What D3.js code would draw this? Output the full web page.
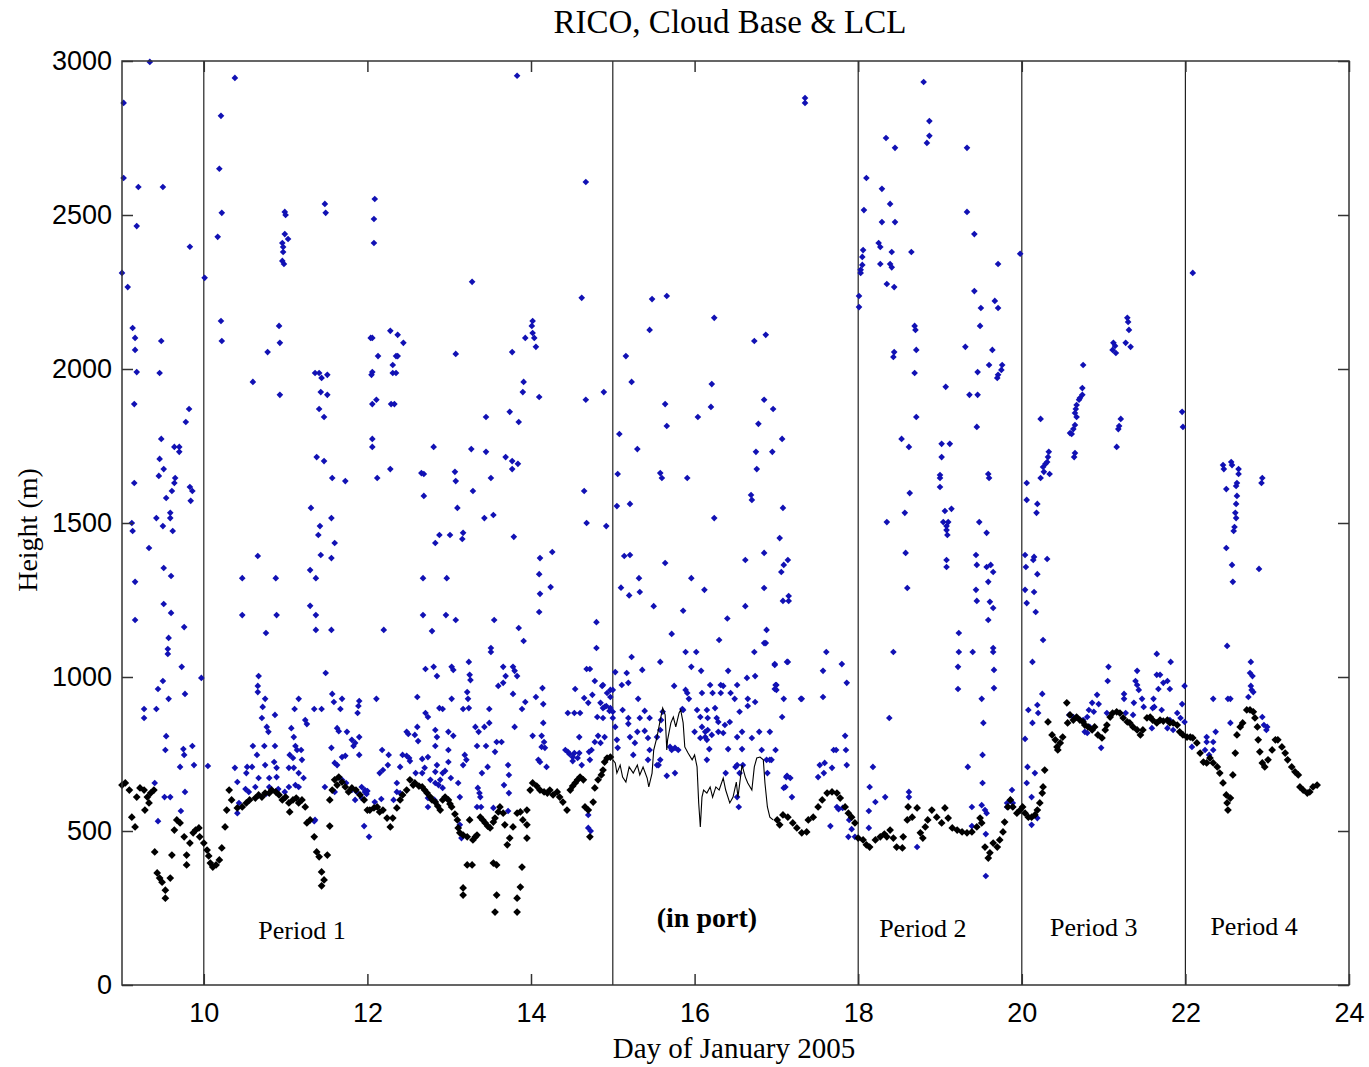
<!DOCTYPE html>
<html><head><meta charset="utf-8">
<script src="https://cdn.jsdelivr.net/npm/d3@7"></script>
<style>
html,body{margin:0;padding:0;background:#fff;}
svg{display:block;}
</style></head>
<body>
<svg id="chart" width="1369" height="1067"></svg>
<script>
// ---------- DATA ----------
const chartTitle = "RICO, Cloud Base & LCL";
const xLabel = "Day of January 2005";
const yLabel = "Height (m)";
const xTicks = [10,12,14,16,18,20,22,24];
const yTicks = [0,500,1000,1500,2000,2500,3000];
const periodLines = [10,15,18,20,22];
const periodNames = ["Period 1","(in port)","Period 2","Period 3","Period 4"];
const periodDays = [11.2,16.15,18.79,20.88,22.84];
const periodHeights = [150,188,156,159,162];

// Cloud base (blue points): [day, height m]
const cloudBase = [
[9.34,2997],[9.02,2864],[9.02,2620],[9.20,2591],[9.50,2591],[9.18,2464],[9.83,2397],[9.00,2312],[9.07,2266],[10.01,2296],[9.13,2133],[9.16,2101],[9.16,2062],[9.48,2091],[9.18,1990],[9.46,1987],[9.15,1886],[9.82,1870],[9.78,1828],[9.48,1773],[9.64,1747],[9.70,1747],[9.70,1731],[9.46,1708],[9.51,1675],[9.45,1653],[9.65,1646],[9.64,1630],[9.15,1630],[9.61,1604],[9.83,1617],[9.86,1604],[9.54,1581],[9.84,1572],[9.59,1533],[9.59,1516],[9.42,1516],[9.12,1500],[9.50,1490],[9.13,1474],[9.62,1474],[9.33,1419],[9.51,1354],[9.60,1328],[9.16,1309],
[10.38,2945],[10.21,2822],[10.19,2650],[10.22,2507],[10.17,2429],[10.99,2510],[11.00,2500],[10.99,2438],[11.03,2422],[10.96,2409],[10.97,2396],[10.97,2380],[10.96,2351],[10.98,2341],[11.48,2536],[11.49,2507],[12.09,2552],[12.08,2487],[12.08,2409],[10.21,2156],[10.22,2091],[10.92,2140],[10.93,2085],[10.78,2055],[10.60,1958],[10.93,1916],[11.36,1987],[11.41,1987],[11.44,1971],[11.51,1981],[11.43,1925],[11.51,1916],[11.41,1870],[11.47,1844],[11.38,1714],[11.47,1701],[11.57,1646],[11.73,1636],[11.31,1549],[11.56,1516],[11.42,1490],[11.40,1461],[11.60,1435],[11.43,1396],[11.56,1386],[10.66,1393],[11.30,1347],[11.37,1321],[10.47,1321],[10.88,1321],[12.04,2101],[12.06,2101],[12.28,2124],[12.37,2111],[12.44,2085],[12.13,2042],[12.35,2042],[12.37,2042],[12.31,2013],[12.06,1990],[12.05,1981],[12.31,1987],[12.35,1987],[12.11,1900],[12.06,1886],[12.29,1886],[12.33,1886],[12.06,1773],[12.06,1747],[12.28,1675],[12.12,1646],[12.66,1662],
[13.83,2952],[14.67,2607],[13.28,2283],[14.62,2231],[15.48,2227],[15.66,2237],[16.24,2166],[15.45,2127],[14.02,2156],[14.01,2140],[14.02,2117],[13.93,2101],[14.04,2101],[14.06,2072],[13.77,2055],[13.08,2049],[15.16,2042],[13.91,1958],[13.90,1925],[14.10,1909],[14.67,1900],[14.89,1925],[15.23,1958],[16.21,1951],[15.64,1886],[16.20,1877],[16.04,1844],[15.66,1815],[13.45,1844],[13.74,1861],[13.85,1828],[15.08,1789],[12.81,1747],[13.27,1740],[13.45,1731],[13.69,1714],[13.77,1701],[13.84,1692],[13.77,1675],[15.30,1740],[12.69,1659],[13.07,1666],[13.08,1636],[13.51,1646],[15.06,1659],[15.58,1662],[15.60,1646],[15.91,1646],[12.69,1588],[13.29,1604],[14.65,1604],[13.10,1549],[15.05,1555],[15.21,1562],[13.43,1516],[13.54,1526],[16.24,1516],[14.68,1500],[14.92,1490],[12.88,1461],[13.01,1461],[13.17,1468],[13.16,1448],[12.83,1435],[13.79,1455],[14.26,1406],[14.11,1386],[15.14,1393],[15.21,1396],[15.64,1370],[14.10,1334],[12.97,1321],[12.68,1321],[15.32,1321],[15.96,1321],
[17.35,2880],[17.35,2864],[18.80,2932],[18.87,2805],[18.87,2757],[18.84,2734],[18.34,2750],[18.45,2718],[19.33,2718],[18.10,2620],[18.29,2585],[18.39,2536],[18.07,2516],[18.29,2477],[18.45,2477],[19.33,2510],[19.42,2438],[18.25,2409],[18.27,2396],[18.41,2380],[18.65,2380],[18.06,2386],[18.05,2364],[19.98,2374],[18.05,2338],[18.03,2322],[18.03,2312],[18.27,2341],[18.39,2341],[18.41,2330],[19.71,2341],[18.01,2237],[18.01,2201],[18.35,2276],[18.44,2266],[19.42,2253],[19.67,2221],[19.50,2198],[19.71,2198],[19.49,2140],[18.69,2140],[18.70,2127],[16.87,2111],[16.73,2091],[18.44,2055],[18.43,2039],[18.71,2062],[19.31,2072],[19.64,2062],[19.60,2013],[19.76,2013],[19.75,1997],[19.71,1981],[19.70,1971],[18.69,1987],[19.46,1990],[19.07,1942],[19.36,1916],[19.46,1916],[16.85,1900],[16.96,1870],[18.71,1844],[16.78,1822],[19.45,1812],[17.07,1773],[18.53,1773],[18.62,1747],[19.02,1757],[19.12,1757],[16.75,1731],[16.95,1731],[16.76,1675],[19.02,1714],[19.00,1656],[19.00,1646],[19.00,1617],[19.59,1659],[19.60,1646],[20.06,1630],[18.63,1597],[16.69,1591],[16.70,1575],[17.08,1549],[20.06,1575],[20.19,1562],[18.57,1533],[20.18,1533],[18.35,1503],[19.06,1539],[19.14,1546],[19.04,1503],[19.10,1503],[19.08,1490],[19.08,1477],[19.09,1461],[19.48,1503],[19.57,1468],[17.04,1451],[16.85,1403],[18.58,1403],[16.62,1380],[17.09,1364],[17.14,1380],[19.44,1396],[19.45,1364],[19.62,1364],[19.65,1341],[19.59,1309],[20.04,1396],[20.15,1390],[20.14,1380],[20.05,1357],[20.19,1334],
[22.09,2312],[21.29,2166],[21.30,2153],[21.31,2127],[21.27,2085],[21.33,2072],[21.12,2085],[21.14,2075],[21.11,2062],[21.15,2052],[20.75,2013],[21.96,1861],[21.97,1812],[20.74,1938],[20.74,1916],[20.71,1906],[20.70,1900],[20.67,1883],[20.66,1870],[20.65,1857],[20.67,1844],[20.65,1818],[20.63,1805],[20.59,1792],[20.61,1789],[20.65,1727],[20.64,1714],[21.21,1838],[21.19,1815],[21.18,1805],[21.16,1747],[20.23,1838],[20.33,1731],[20.32,1714],[20.31,1698],[20.29,1692],[20.34,1659],[20.26,1682],[20.27,1666],[20.23,1646],[20.31,1383],[22.46,1688],[22.47,1675],[22.56,1698],[22.57,1688],[22.65,1675],[22.65,1659],[22.63,1630],[22.62,1620],[22.50,1610],[22.63,1588],[22.62,1562],[22.61,1533],[22.62,1516],[22.60,1487],[22.59,1474],[22.94,1646],[22.93,1630],[22.50,1419],[22.57,1364],[22.90,1351],[22.58,1309],
[9.51,1237],[9.16,1185],[9.60,1208],[9.76,1162],[9.57,1127],[9.56,1091],[9.56,1075],[9.73,1033],[9.97,997],[9.50,987],[9.44,961],[9.57,929],[9.77,945],[9.27,896],[9.27,867],[9.42,896],[9.54,808],[9.53,763],[9.75,766],[9.76,747],[9.86,776],[9.71,708],[9.88,714],[10.05,711],[9.40,656],[9.52,610],[9.59,610],[9.77,627],[9.72,565],[9.44,532],
[10.47,1201],[10.89,1201],[10.76,1143],[11.30,1231],[11.37,1201],[11.37,1153],[11.56,1153],[11.49,1013],[10.67,1003],[10.66,971],[10.66,951],[10.75,929],[10.72,903],[10.71,867],[10.87,877],[11.16,929],[11.11,896],[11.35,896],[11.44,896],[11.57,945],[11.69,929],[11.59,919],[11.67,896],[11.90,922],[11.89,906],[11.88,883],[10.77,838],[10.79,822],[11.07,834],[11.10,805],[11.24,860],[11.26,847],[11.63,834],[11.65,824],[11.75,822],[10.60,776],[10.74,776],[10.87,776],[11.12,776],[11.14,763],[11.19,763],[11.56,770],[10.65,747],[11.05,747],[11.09,737],[11.81,796],[11.83,776],[11.85,786],[11.90,805],[11.69,740],[11.73,744],[11.20,731],[11.60,721],[11.63,714],[11.90,747],[10.38,705],[10.53,708],[10.59,708],[10.75,714],[10.86,724],[10.89,705],[11.04,705],[11.10,705],[11.16,688],[11.22,672],[10.67,672],[10.80,672],[10.89,675],[10.52,688],[10.41,659],[10.51,636],[10.55,627],[10.63,643],[10.80,643],[10.76,620],[10.91,636],[10.99,627],[11.04,643],[11.12,649],[11.16,643],[11.48,643],[11.60,627],[11.69,666],[11.74,656],[11.81,633],[11.87,627],[11.93,643],[11.97,627],[11.85,601],[11.93,607],[12.00,630],[10.41,558],[10.43,591],[11.96,516],[12.02,481],[11.36,536],[11.35,532],
[14.24,1292],[14.11,1270],[14.10,1211],[12.20,1153],[12.68,1201],[12.96,1201],[13.08,1185],[12.79,1149],[13.55,1185],[13.85,1159],[13.91,1117],[14.80,1178],[14.80,1094],[13.51,1094],[13.51,1081],[12.71,1026],[12.81,1033],[12.85,1003],[13.03,1033],[13.05,1023],[13.24,1049],[13.25,1007],[13.26,990],[13.66,1033],[13.69,1003],[13.78,1033],[13.80,1020],[13.83,1003],[13.60,971],[13.66,981],[13.22,951],[12.61,935],[13.03,929],[13.23,929],[12.11,929],[13.78,945],[14.06,935],[14.14,964],[13.93,919],[13.89,896],[14.15,912],[14.68,1026],[14.72,1026],[14.78,987],[14.87,971],[14.54,961],[14.65,932],[14.70,916],[14.75,942],[14.85,916],[14.88,899],[14.92,906],[14.97,958],[14.96,890],[14.81,870],[14.45,883],[14.53,883],[14.60,883],[12.88,899],[12.92,896],[12.74,870],[12.71,883],[13.17,896],[13.24,899],[13.49,896],[13.32,838],[13.36,822],[13.43,838],[13.49,851],[13.80,838],[14.15,851],[14.13,809],[14.16,789],[14.17,770],[12.48,822],[12.50,815],[12.61,838],[12.58,812],[12.83,828],[12.85,805],[12.99,822],[13.05,809],[12.62,792],[12.83,776],[12.99,763],[13.34,776],[13.45,776],[13.58,789],[13.64,789],[13.56,757],[14.02,809],[14.13,773],[14.59,805],[14.82,809],[14.85,786],[14.78,789],[14.74,763],[14.71,757],[14.45,757],[14.47,750],[14.53,753],[14.59,753],[14.57,737],[14.51,727],[14.42,763],[12.18,763],[12.26,747],[12.43,747],[12.48,744],[12.51,737],[12.52,727],[12.40,708],[12.25,714],[12.67,734],[12.74,740],[12.99,724],[12.85,714],[12.70,705],[12.83,692],[12.95,695],[12.92,688],[12.89,666],[12.83,656],[12.77,666],[12.87,649],[12.67,688],[12.59,688],[13.19,747],[13.21,731],[13.17,714],[13.47,708],[13.40,688],[13.72,714],[13.73,682],[14.09,731],[14.11,724],[14.19,708],[14.51,740],[14.62,714],[14.72,731],[13.02,672],[13.11,656],[13.35,640],[13.37,623],[13.38,610],[13.67,649],[13.73,623],[13.72,565],[13.13,610],[12.92,640],[12.74,607],[12.74,578],[12.82,601],[12.36,656],[12.36,627],[12.15,688],[12.19,698],[11.97,633],[11.99,620],[11.96,601],[12.40,623],[12.09,594],[12.17,604],[12.32,601],[13.34,578],[13.39,578],[13.54,575],[13.13,520],[13.15,477],[14.70,552],[14.70,510],[14.73,500],
[15.10,1290],[15.20,1265],[15.33,1276],[15.50,1230],[15.86,1215],[16.12,1283],[16.40,1190],[16.62,1230],[15.72,1140],[16.30,1120],
[15.23,1065],[15.58,1049],[15.89,1081],[16.02,1081],[16.73,1081],[15.03,1016],[15.36,1023],[15.17,1013],[15.96,1033],[16.08,1020],[16.41,1020],[16.64,997],[16.74,1003],[16.98,1039],[17.13,1049],[14.88,974],[15.11,974],[15.19,981],[15.75,971],[15.89,958],[15.91,948],[16.19,974],[16.32,974],[16.35,971],[16.52,974],[17.00,974],[17.00,958],[14.93,948],[14.97,935],[15.00,958],[15.31,929],[15.93,929],[16.09,948],[16.22,948],[16.32,948],[16.44,948],[16.49,929],[16.65,929],[16.74,919],[17.31,929],[14.90,903],[14.97,899],[15.00,887],[15.12,893],[15.39,890],[15.86,893],[16.03,893],[16.15,893],[16.25,899],[16.55,887],[16.65,906],[14.88,867],[15.00,867],[15.03,838],[15.19,867],[15.19,848],[15.33,867],[15.45,867],[15.59,860],[15.61,887],[15.85,896],[16.07,870],[16.16,867],[16.27,867],[16.29,854],[16.37,844],[16.43,854],[17.07,870],[15.30,822],[15.39,825],[15.58,828],[16.09,838],[16.13,822],[16.16,828],[16.00,822],[16.21,812],[16.29,822],[16.35,818],[16.58,822],[16.79,822],[16.92,822],[14.90,805],[15.05,796],[15.21,805],[15.43,802],[15.54,805],[16.07,802],[16.13,805],[16.15,796],[16.52,805],[16.70,802],[15.27,786],[15.45,763],[15.70,773],[15.72,763],[15.76,770],[15.80,763],[16.18,766],[16.41,766],[16.58,766],[16.82,763],[15.06,770],[15.25,747],[15.43,731],[15.58,731],[16.15,731],[16.92,731],[17.13,679],[17.17,672],[17.11,643],[17.19,610],[16.52,714],[16.59,714],[16.50,708],[16.55,688],[16.38,688],[16.52,610],[16.54,578],[15.54,714],[15.56,714],[15.66,679],[15.76,688],[17.53,714],[17.51,675],
[17.06,1341],[16.85,1289],[17.08,1247],[17.15,1263],[17.15,1247],[16.88,1153],[16.85,1110],[16.87,1110],[16.98,1042],[17.14,1049],[16.99,974],[16.98,961],[17.09,929],[17.30,929],[17.57,935],[17.61,1081],[17.57,1020],[17.80,1042],[17.86,981],[16.99,763],[16.88,731],[16.94,731],[16.89,688],[17.12,675],[17.09,640],[17.59,721],[17.58,688],[17.68,705],[17.70,763],[17.73,763],[17.84,809],[17.85,763],[17.86,714],[17.74,578],[17.76,571],[17.81,575],[17.66,516],[17.89,536],[17.88,481],[17.96,481],[17.92,506],[18.13,510],[18.13,565],[18.21,594],[18.14,643],[18.18,708],[18.33,610],[18.43,1081],[18.38,867],[18.60,1289],[18.62,627],[18.62,610],[18.72,448],[19.23,1143],[19.23,1081],[19.22,1033],[19.22,961],[19.40,1081],[19.08,1380],[19.08,1357],[19.44,1283],[19.45,1247],[19.61,1244],[19.65,1224],[19.59,1185],[19.57,1357],[19.65,1094],[19.65,1081],[19.66,1023],[19.66,964],[19.51,929],[19.53,851],[19.52,747],[19.34,708],[19.52,656],[19.39,578],[19.51,584],[19.55,568],[19.57,558],[19.39,516],[19.56,490],[19.56,354],[19.82,578],[19.86,601],[19.89,578],[19.88,633],[20.04,1283],[20.06,1240],[20.15,1276],[20.17,1211],[20.13,1049],[20.08,893],[20.19,909],[20.20,883],[20.13,851],[20.04,799],[20.07,708],[20.16,688],[20.06,656],[20.12,610],[20.12,520],[20.19,542],
[20.26,1120],[20.25,945],[19.82,591],[19.89,591],[21.06,1033],[21.05,987],[20.94,912],[20.92,942],[20.86,916],[20.82,893],[20.88,887],[20.80,870],[20.75,860],[20.83,838],[20.77,822],[20.97,770],[21.04,883],[20.63,870],[20.58,877],[20.80,818],[21.25,945],[21.25,929],[21.41,1020],[21.39,987],[21.41,974],[21.43,958],[21.37,916],[21.47,929],[21.49,903],[21.60,899],[21.65,1075],[21.82,1049],[21.65,1007],[21.69,1007],[21.73,981],[21.78,987],[21.67,961],[21.81,961],[21.61,929],[21.62,903],[21.71,893],[21.59,834],[21.78,834],[21.85,828],[21.81,860],[21.90,883],[21.36,877],[21.27,883],[21.99,971],[21.96,912],[21.94,867],[21.99,854],[22.08,773],[22.26,805],[22.26,789],[22.24,763],[22.34,789],[22.37,822],[22.34,763],[22.29,747],[22.51,1101],[22.34,929],[22.52,929],[22.55,929],[22.55,851],[22.80,1049],[22.79,1013],[22.82,1003],[22.80,971],[22.81,958],[22.83,951],[22.77,935],[22.94,870],[22.96,844],[22.99,828],[23.00,838]
];

// LCL from ship (black points): [day, height m]
const lclShip = [
[9.00,649],[9.04,656],[9.09,633],[9.12,545],[9.16,513],[9.18,610],[9.22,640],[9.27,633],[9.31,610],[9.33,591],[9.28,568],[9.35,623],[9.39,633],[9.40,432],[9.43,364],[9.46,347],[9.49,334],[9.53,308],[9.53,282],[9.59,347],[9.61,422],[9.64,503],[9.67,536],[9.71,526],[9.76,481],[9.79,422],[9.79,390],[9.83,461],[9.87,494],[9.90,503],[9.94,510],[9.95,481],[10.00,461],[10.04,438],[10.06,419],[10.08,396],[10.11,383],[10.15,390],[10.19,406],[10.22,445],[10.26,513],[10.28,568],[10.31,633],[10.34,601],
[10.41,575],[10.47,578],[10.52,591],[10.56,601],[10.63,607],[10.67,617],[10.71,610],[10.75,623],[10.80,623],[10.83,633],[10.88,627],[10.92,617],[10.96,601],[11.00,610],[11.04,591],[11.05,562],[11.09,601],[11.13,607],[11.16,591],[11.20,601],[11.24,578],[11.26,526],[11.30,536],[11.35,481],[11.38,432],[11.41,416],[11.44,367],[11.47,341],[11.44,322],[11.51,422],[11.54,516],[11.54,601],[11.57,633],[11.60,666],[11.63,649],[11.65,675],[11.69,659],[11.73,643],[11.77,627],[11.81,640],[11.86,633],[11.91,617],[11.96,601],
[12.00,568],[12.03,568],[12.08,575],[12.12,578],[12.15,562],[12.19,568],[12.24,542],[12.28,513],[12.31,542],[12.36,575],[12.40,601],[12.43,617],[12.48,633],[12.52,666],[12.56,649],[12.58,656],[12.63,646],[12.67,643],[12.70,633],[12.73,623],[12.77,610],[12.79,601],[12.83,594],[12.86,581],[12.89,568],[12.92,601],[12.95,610],[12.99,601],[13.01,588],[13.03,578],[13.07,555],[13.10,536],[13.11,510],[13.13,494],[13.17,487],[13.22,481],[13.25,536],[13.29,471],[13.32,481],[13.34,487],[13.38,545],[13.41,536],[13.44,526],[13.47,516],[13.50,510],[13.54,529],[13.56,542],[13.60,562],[13.62,578],[13.66,558],[13.68,520],[13.71,455],[13.74,477],[13.78,513],[13.83,558],[13.87,562],[13.90,536],[13.95,568],[13.95,520],[13.95,477],[13.99,633],[14.02,656],[14.07,646],[14.11,633],[14.16,627],[14.20,623],[14.23,633],[14.27,617],[14.32,627],[14.35,610],[14.39,594],[14.44,568],[14.48,633],[14.51,646],[14.54,656],[14.57,666],[14.60,675],[14.64,666],[14.66,578],[14.70,568],[14.72,481],[14.76,594],[14.78,640],[14.82,666],[14.86,682],[14.88,698],[14.90,724],[14.93,737],[14.97,740],
[13.17,315],[13.17,292],[13.22,390],[13.28,390],[13.54,396],[13.58,390],[13.58,292],[13.56,237],[13.89,383],[13.87,318],[13.83,282],[13.83,237],
[17.01,536],[17.04,520],[17.08,552],[17.14,545],[17.20,526],[17.25,510],[17.31,494],[17.37,497],[17.39,536],[17.45,545],[17.51,578],[17.56,601],[17.62,623],[17.68,627],[17.74,623],[17.78,607],[17.84,578],[17.88,558],[17.92,545],[17.96,526],[18.00,477],[18.06,471],[18.10,455],[18.14,448],[18.21,471],[18.27,481],[18.32,490],[18.35,481],[18.39,503],[18.43,477],[18.47,448],[18.54,445],[18.55,481],[18.60,536],[18.61,578],[18.66,545],[18.72,575],[18.76,494],[18.79,477],[18.82,513],[18.85,536],[18.90,568],[18.96,545],[19.02,526],[19.06,575],[19.10,542],[19.15,510],[19.21,503],[19.27,497],[19.33,494],[19.39,497],[19.45,513],[19.49,542],[19.51,526],[19.55,448],[19.59,412],[19.61,429],[19.65,461],[19.70,448],[19.73,471],[19.77,497],[19.79,529],[19.83,578],[19.86,601],[19.89,578],[19.94,558],[19.98,568],[20.01,578],[20.04,558],[20.08,545],[20.12,545],[20.16,552],[20.19,568],[20.22,591],[20.25,623],[20.26,643],[20.28,698],
[20.32,854],[20.37,812],[20.41,796],[20.43,773],[20.44,763],[20.47,786],[20.50,805],[20.55,916],[20.56,851],[20.59,877],[20.63,860],[20.67,870],[20.71,860],[20.75,854],[20.77,844],[20.81,838],[20.86,828],[20.89,838],[20.93,812],[20.98,802],[21.02,828],[21.04,844],[21.08,870],[21.11,883],[21.16,887],[21.20,883],[21.24,867],[21.29,854],[21.32,851],[21.36,838],[21.41,828],[21.45,812],[21.48,828],[21.53,867],[21.57,870],[21.60,860],[21.65,851],[21.69,860],[21.73,857],[21.78,860],[21.81,851],[21.85,851],[21.90,844],[21.93,822],[21.97,812],[22.02,805],[22.06,805],[22.09,802],[22.14,786],[22.18,753],[22.22,724],[22.26,721],[22.30,737],[22.34,721],[22.39,708],[22.42,688],[22.46,656],[22.50,617],[22.51,591],[22.52,568],[22.55,607],[22.58,682],[22.61,753],[22.63,812],[22.67,838],[22.70,851],[22.75,893],[22.79,893],[22.83,887],[22.85,867],[22.88,838],[22.89,796],[22.91,757],[22.94,721],[22.97,708],[23.01,731],[23.06,763],[23.10,796],[23.13,796],[23.18,773],[23.22,753],[23.25,731],[23.30,708],[23.34,692],[23.38,682],[23.40,643],[23.44,633],[23.49,623],[23.52,627],[23.56,643],[23.61,649]
];

// LCL while in port (thin black line): [day, height m]
const lclPort = [
[15.00,731],[15.03,721],[15.05,688],[15.09,714],[15.12,675],[15.16,659],[15.20,708],[15.25,688],[15.30,714],[15.33,682],[15.37,708],[15.42,672],[15.44,643],[15.48,688],[15.50,763],[15.54,805],[15.58,860],[15.61,899],[15.64,877],[15.66,763],[15.67,796],[15.71,851],[15.74,870],[15.77,838],[15.81,883],[15.83,893],[15.86,851],[15.88,773],[15.92,753],[15.97,731],[16.00,747],[16.03,708],[16.05,591],[16.07,513],[16.09,610],[16.11,633],[16.15,623],[16.19,643],[16.22,610],[16.26,643],[16.30,633],[16.35,672],[16.38,633],[16.43,591],[16.47,610],[16.51,659],[16.53,610],[16.58,714],[16.62,675],[16.65,656],[16.70,633],[16.73,708],[16.76,737],[16.80,740],[16.84,731],[16.86,656],[16.89,578],[16.92,545],[16.96,536]
];

// ---------- CHART ----------
const W = 1369, H = 1067;
const mLeft = 122, mRight = 1349, mTop = 61, mBottom = 985;
const svg = d3.select("#chart");
const x = d3.scaleLinear().domain([9,24]).range([mLeft,mRight]);
const y = d3.scaleLinear().domain([0,3000]).range([mBottom,mTop]);

const serif = "'Liberation Serif','Times New Roman',serif";
const sans = "'Liberation Sans',Arial,Helvetica,sans-serif";

svg.append("rect").attr("width",W).attr("height",H).attr("fill","#fff");

// period separator lines
svg.append("g").selectAll("line").data(periodLines).join("line")
  .attr("x1",d=>x(d)).attr("x2",d=>x(d)).attr("y1",mTop).attr("y2",mBottom)
  .attr("stroke","#222").attr("stroke-width",1.2);

const diamond = {draw(ctx,size){const r=Math.sqrt(size/2);ctx.moveTo(0,-r);ctx.lineTo(r,0);ctx.lineTo(0,r);ctx.lineTo(-r,0);ctx.closePath();}};

svg.append("g").selectAll("path").data(cloudBase).join("path")
  .attr("transform",d=>`translate(${x(d[0])},${y(d[1])})`)
  .attr("d",d3.symbol(diamond,22))
  .attr("fill","#1111b4");

svg.append("g").selectAll("path").data(lclShip).join("path")
  .attr("transform",d=>`translate(${x(d[0])},${y(d[1])})`)
  .attr("d",d3.symbol(diamond,30))
  .attr("fill","#000");

svg.append("path").datum(lclPort)
  .attr("d",d3.line().x(d=>x(d[0])).y(d=>y(d[1])))
  .attr("fill","none").attr("stroke","#000").attr("stroke-width",1.1);

// axes box
const axisColor = "#333";
svg.append("rect").attr("x",mLeft).attr("y",mTop).attr("width",mRight-mLeft).attr("height",mBottom-mTop)
  .attr("fill","none").attr("stroke",axisColor).attr("stroke-width",1.5);

const tickLen = 11;
const gx = svg.append("g").attr("transform",`translate(0,${mBottom})`)
  .call(d3.axisBottom(x).tickValues(xTicks).tickSize(-tickLen).tickPadding(18).tickFormat(d3.format("d")));
const gxTop = svg.append("g").attr("transform",`translate(0,${mTop})`)
  .call(d3.axisTop(x).tickValues(xTicks).tickSize(-tickLen).tickFormat(""));
const gy = svg.append("g").attr("transform",`translate(${mLeft},0)`)
  .call(d3.axisLeft(y).tickValues(yTicks).tickSize(-tickLen).tickPadding(10).tickFormat(d3.format("d")));
const gyR = svg.append("g").attr("transform",`translate(${mRight},0)`)
  .call(d3.axisRight(y).tickValues(yTicks).tickSize(-tickLen).tickFormat(""));
[gx,gxTop,gy,gyR].forEach(g=>{
  g.select(".domain").remove();
  g.selectAll(".tick line").attr("stroke",axisColor).attr("stroke-width",1.5);
  g.selectAll(".tick text").attr("fill","#000").style("font-family",sans).style("font-size","27px");
});

// titles
svg.append("text").attr("x",730).attr("y",33).attr("text-anchor","middle")
  .style("font-family",serif).style("font-size","33px").text(chartTitle);
svg.append("text").attr("x",734).attr("y",1058).attr("text-anchor","middle")
  .style("font-family",serif).style("font-size","29px").text(xLabel);
svg.append("text").attr("transform","translate(37,530) rotate(-90)").attr("text-anchor","middle")
  .style("font-family",serif).style("font-size","28px").text(yLabel);

// period labels
svg.append("g").selectAll("text").data(periodNames).join("text")
  .attr("x",(d,i)=>x(periodDays[i])).attr("y",(d,i)=>y(periodHeights[i]))
  .attr("text-anchor","middle")
  .style("font-family",serif).style("font-size",(d,i)=>i===1?"28px":"26px")
  .style("font-weight",(d,i)=>i===1?"bold":"normal")
  .text(d=>d);
</script>
</body></html>
